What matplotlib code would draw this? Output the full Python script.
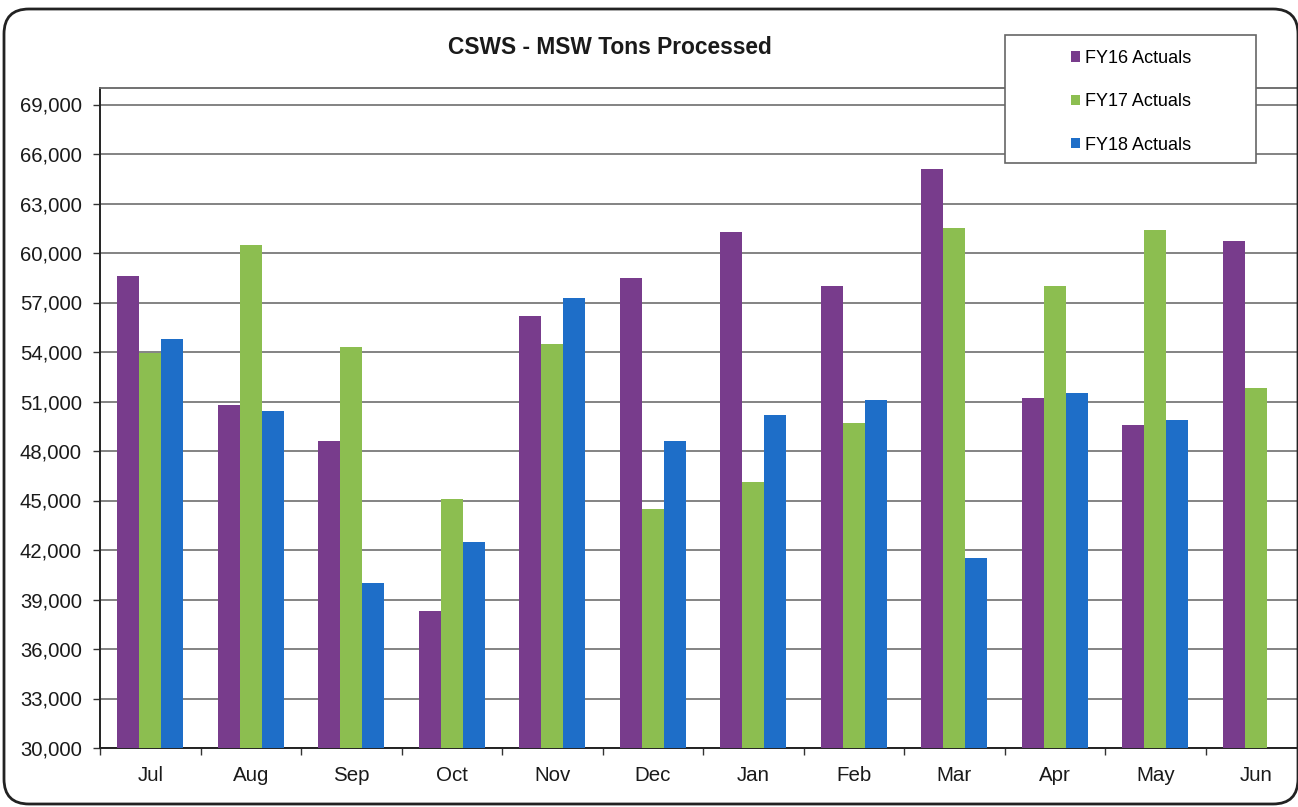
import numpy as np
import matplotlib.pyplot as plt
from matplotlib.patches import FancyBboxPatch, Rectangle
from matplotlib.ticker import FuncFormatter, MultipleLocator

plt.rcParams['font.family'] = ['Liberation Sans', 'DejaVu Sans']

# data
months = ['Jul', 'Aug', 'Sep', 'Oct', 'Nov', 'Dec', 'Jan', 'Feb', 'Mar', 'Apr', 'May', 'Jun']
fy16 = [58600, 50800, 48600, 38300, 56200, 58500, 61300, 58000, 65100, 51200, 49600, 60700]
fy17 = [53950, 60500, 54300, 45100, 54500, 44500, 46100, 49700, 61500, 58000, 61400, 51800]
fy18 = [54800, 50400, 40000, 42500, 57300, 48600, 50200, 51100, 41500, 51500, 49900, np.nan]
series_names = ['FY16 Actuals', 'FY17 Actuals', 'FY18 Actuals']
colors = ['#783C8C', '#8CBE50', '#1E6EC8']

W, H = 1298, 807
fig = plt.figure(figsize=(W / 100, H / 100), dpi=100)

# plot area (runs slightly past the right edge, as in the cropped scan)
ax = fig.add_axes([100 / W, 1 - 748 / H, 1206 / W, (748 - 88) / H])

x = np.arange(len(months))
bw = 0.22
bars = []
for i, (vals, c) in enumerate(zip([fy16, fy17, fy18], colors)):
    b = ax.bar(x + (i - 1) * bw, vals, width=bw, color=c, zorder=3, label=series_names[i])
    bars.append(b)

ax.set_xlim(-0.5, 11.5)
ax.set_ylim(30000, 70000)
ax.set_yticks(np.arange(30000, 69001, 3000))
ax.yaxis.set_major_formatter(FuncFormatter(lambda v, p: f'{int(v):,}'))
ax.grid(axis='y', color='#7a7a7a', linewidth=1.3, zorder=0)

ax.set_xticks(x)
ax.set_xticklabels(months)
ax.xaxis.set_minor_locator(MultipleLocator(1, offset=0.5))
ax.tick_params(axis='x', which='major', length=0, pad=13, labelsize=14.8)
ax.tick_params(axis='x', which='minor', length=5, width=1, direction='out', color='#333333')
ax.tick_params(axis='y', length=5, width=1, pad=8, labelsize=14.6, color='#333333')
for lab in ax.get_xticklabels() + ax.get_yticklabels():
    lab.set_color('#1a1a1a')

for s in ['left', 'bottom']:
    ax.spines[s].set_color('#222222')
    ax.spines[s].set_linewidth(1.4)
ax.spines['top'].set_color('#666666')
ax.spines['top'].set_linewidth(1.3)
ax.spines['right'].set_visible(False)

fig.text(610 / W, 1 - 48 / H, 'CSWS - MSW Tons Processed', ha='center', va='center',
         fontsize=16.4, fontweight='bold', color='#1a1a1a')

# legend box + entries
fig.patches.append(Rectangle((1005 / W, 1 - 163 / H), 251 / W, 128 / H,
                             transform=fig.transFigure, facecolor='white',
                             edgecolor='#666666', linewidth=1.2, zorder=5))
leg = fig.legend(handles=bars, labels=series_names, loc='upper left',
                 bbox_to_anchor=(1071 / W, 1 - 50 / H), frameon=False,
                 fontsize=13, handlelength=0.5, handleheight=0.5,
                 handletextpad=0.25, labelspacing=1.46, borderpad=0, borderaxespad=0)
leg.set_zorder(6)

# outer rounded frame
fig.patches.append(FancyBboxPatch((0.04, 0.03), 12.94, 7.95,
                                  boxstyle='round,pad=0,rounding_size=0.25',
                                  transform=fig.dpi_scale_trans, facecolor='none',
                                  edgecolor='#222222', linewidth=2))

fig.savefig('out.png', dpi=100)
